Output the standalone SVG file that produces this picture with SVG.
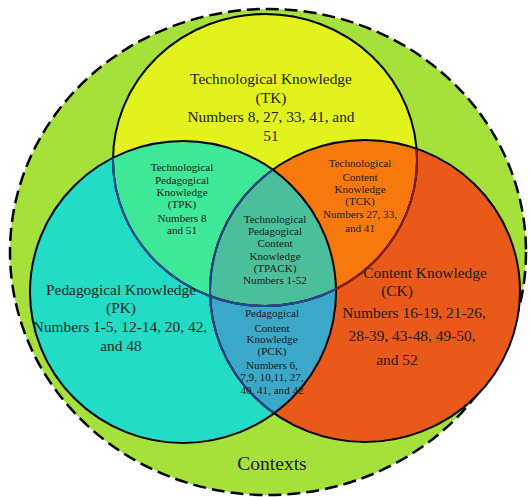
<svg xmlns="http://www.w3.org/2000/svg" width="530" height="497" viewBox="0 0 530 497">
<style>
.lbl text{fill:#1c1c14;text-anchor:middle}
.big{font-size:15.4px}
.sm{font-size:11.1px}
.ctx{font-size:19.5px}
.edge{fill:none;stroke:#000;stroke-width:2}
</style>
<defs>
<clipPath id="cTK"><ellipse cx="265" cy="160" rx="152" ry="146"/></clipPath>
<clipPath id="cPK"><ellipse cx="183" cy="292" rx="153" ry="151"/></clipPath>
<clipPath id="cCK"><ellipse cx="365" cy="291" rx="155" ry="151"/></clipPath>
</defs>
<rect width="530" height="497" fill="#fff"/>
<g id="contexts">
<ellipse cx="268" cy="252" rx="258" ry="243" fill="#a6e03a" stroke="#000" stroke-width="2.5" stroke-dasharray="13 6"/>
</g>
<g id="TK"><ellipse cx="265" cy="160" rx="152" ry="146" fill="#e1f21c"/></g>
<g id="PK"><ellipse cx="183" cy="292" rx="153" ry="151" fill="#22dcc6"/></g>
<g id="CK"><ellipse cx="365" cy="291" rx="155" ry="151" fill="#e8591a"/></g>
<g id="TPK"><ellipse cx="183" cy="292" rx="153" ry="151" fill="#3ee898" clip-path="url(#cTK)"/></g>
<g id="TCK"><ellipse cx="365" cy="291" rx="155" ry="151" fill="#f7790d" clip-path="url(#cTK)"/></g>
<g id="PCK"><ellipse cx="365" cy="291" rx="155" ry="151" fill="#3ba7c9" clip-path="url(#cPK)"/></g>
<g id="TPACK"><g clip-path="url(#cTK)"><ellipse cx="365" cy="291" rx="155" ry="151" fill="#4bbf9c" clip-path="url(#cPK)"/></g></g>
<g id="connectors">
<ellipse class="edge" cx="265" cy="160" rx="152" ry="146"/>
<ellipse class="edge" cx="183" cy="292" rx="153" ry="151"/>
<ellipse class="edge" cx="365" cy="291" rx="155" ry="151"/>
<ellipse cx="265" cy="160" rx="152" ry="146" fill="none" stroke="#8a1a0a" stroke-width="2" clip-path="url(#cCK)"/>
<ellipse cx="265" cy="160" rx="152" ry="146" fill="none" stroke="#1b4f9c" stroke-width="2" clip-path="url(#cPK)"/>
<ellipse cx="365" cy="291" rx="155" ry="151" fill="none" stroke="#1f3d8a" stroke-width="2" clip-path="url(#cPK)"/>
</g>
<g id="labels" class="lbl" font-family="Liberation Serif, Times New Roman, DejaVu Serif, serif">
<text class="ctx" x="272" y="470">Contexts</text>
<text class="big" x="271" y="84">Technological Knowledge</text>
<text class="big" x="271" y="103">(TK)</text>
<text class="big" x="271" y="122">Numbers 8, 27, 33, 41, and</text>
<text class="big" x="271" y="141">51</text>
<text class="big" x="121" y="295">Pedagogical Knowledge</text>
<text class="big" x="121" y="313">(PK)</text>
<text class="big" x="120" y="332">Numbers 1-5, 12-14, 20, 42,</text>
<text class="big" x="121" y="351">and 48</text>
<text class="big" x="425" y="278">Content Knowledge</text>
<text class="big" x="397" y="296">(CK)</text>
<text class="big" x="414" y="318">Numbers 16-19, 21-26,</text>
<text class="big" x="412" y="341">28-39, 43-48, 49-50,</text>
<text class="big" x="397" y="365">and 52</text>
<text class="sm" x="182" y="171">Technological</text>
<text class="sm" x="182" y="184">Pedagogical</text>
<text class="sm" x="182" y="196">Knowledge</text>
<text class="sm" x="182" y="208">(TPK)</text>
<text class="sm" x="182" y="222">Numbers 8</text>
<text class="sm" x="182" y="234">and 51</text>
<text class="sm" x="360" y="167">Technological</text>
<text class="sm" x="360" y="181">Content</text>
<text class="sm" x="360" y="193">Knowledge</text>
<text class="sm" x="360" y="205">(TCK)</text>
<text class="sm" x="360" y="218">Numbers 27, 33,</text>
<text class="sm" x="360" y="232">and 41</text>
<text class="sm" x="275" y="223">Technological</text>
<text class="sm" x="275" y="235">Pedagogical</text>
<text class="sm" x="275" y="247">Content</text>
<text class="sm" x="275" y="260">Knowledge</text>
<text class="sm" x="275" y="272">(TPACK)</text>
<text class="sm" x="275" y="284">Numbers 1-52</text>
<text class="sm" x="272" y="317">Pedagogical</text>
<text class="sm" x="272" y="332">Content</text>
<text class="sm" x="272" y="343">Knowledge</text>
<text class="sm" x="272" y="355">(PCK)</text>
<text class="sm" x="272" y="369">Numbers 6,</text>
<text class="sm" x="272" y="381">7,9, 10,11, 27,</text>
<text class="sm" x="272" y="394">40, 41, and 42</text>
</g>
</svg>
